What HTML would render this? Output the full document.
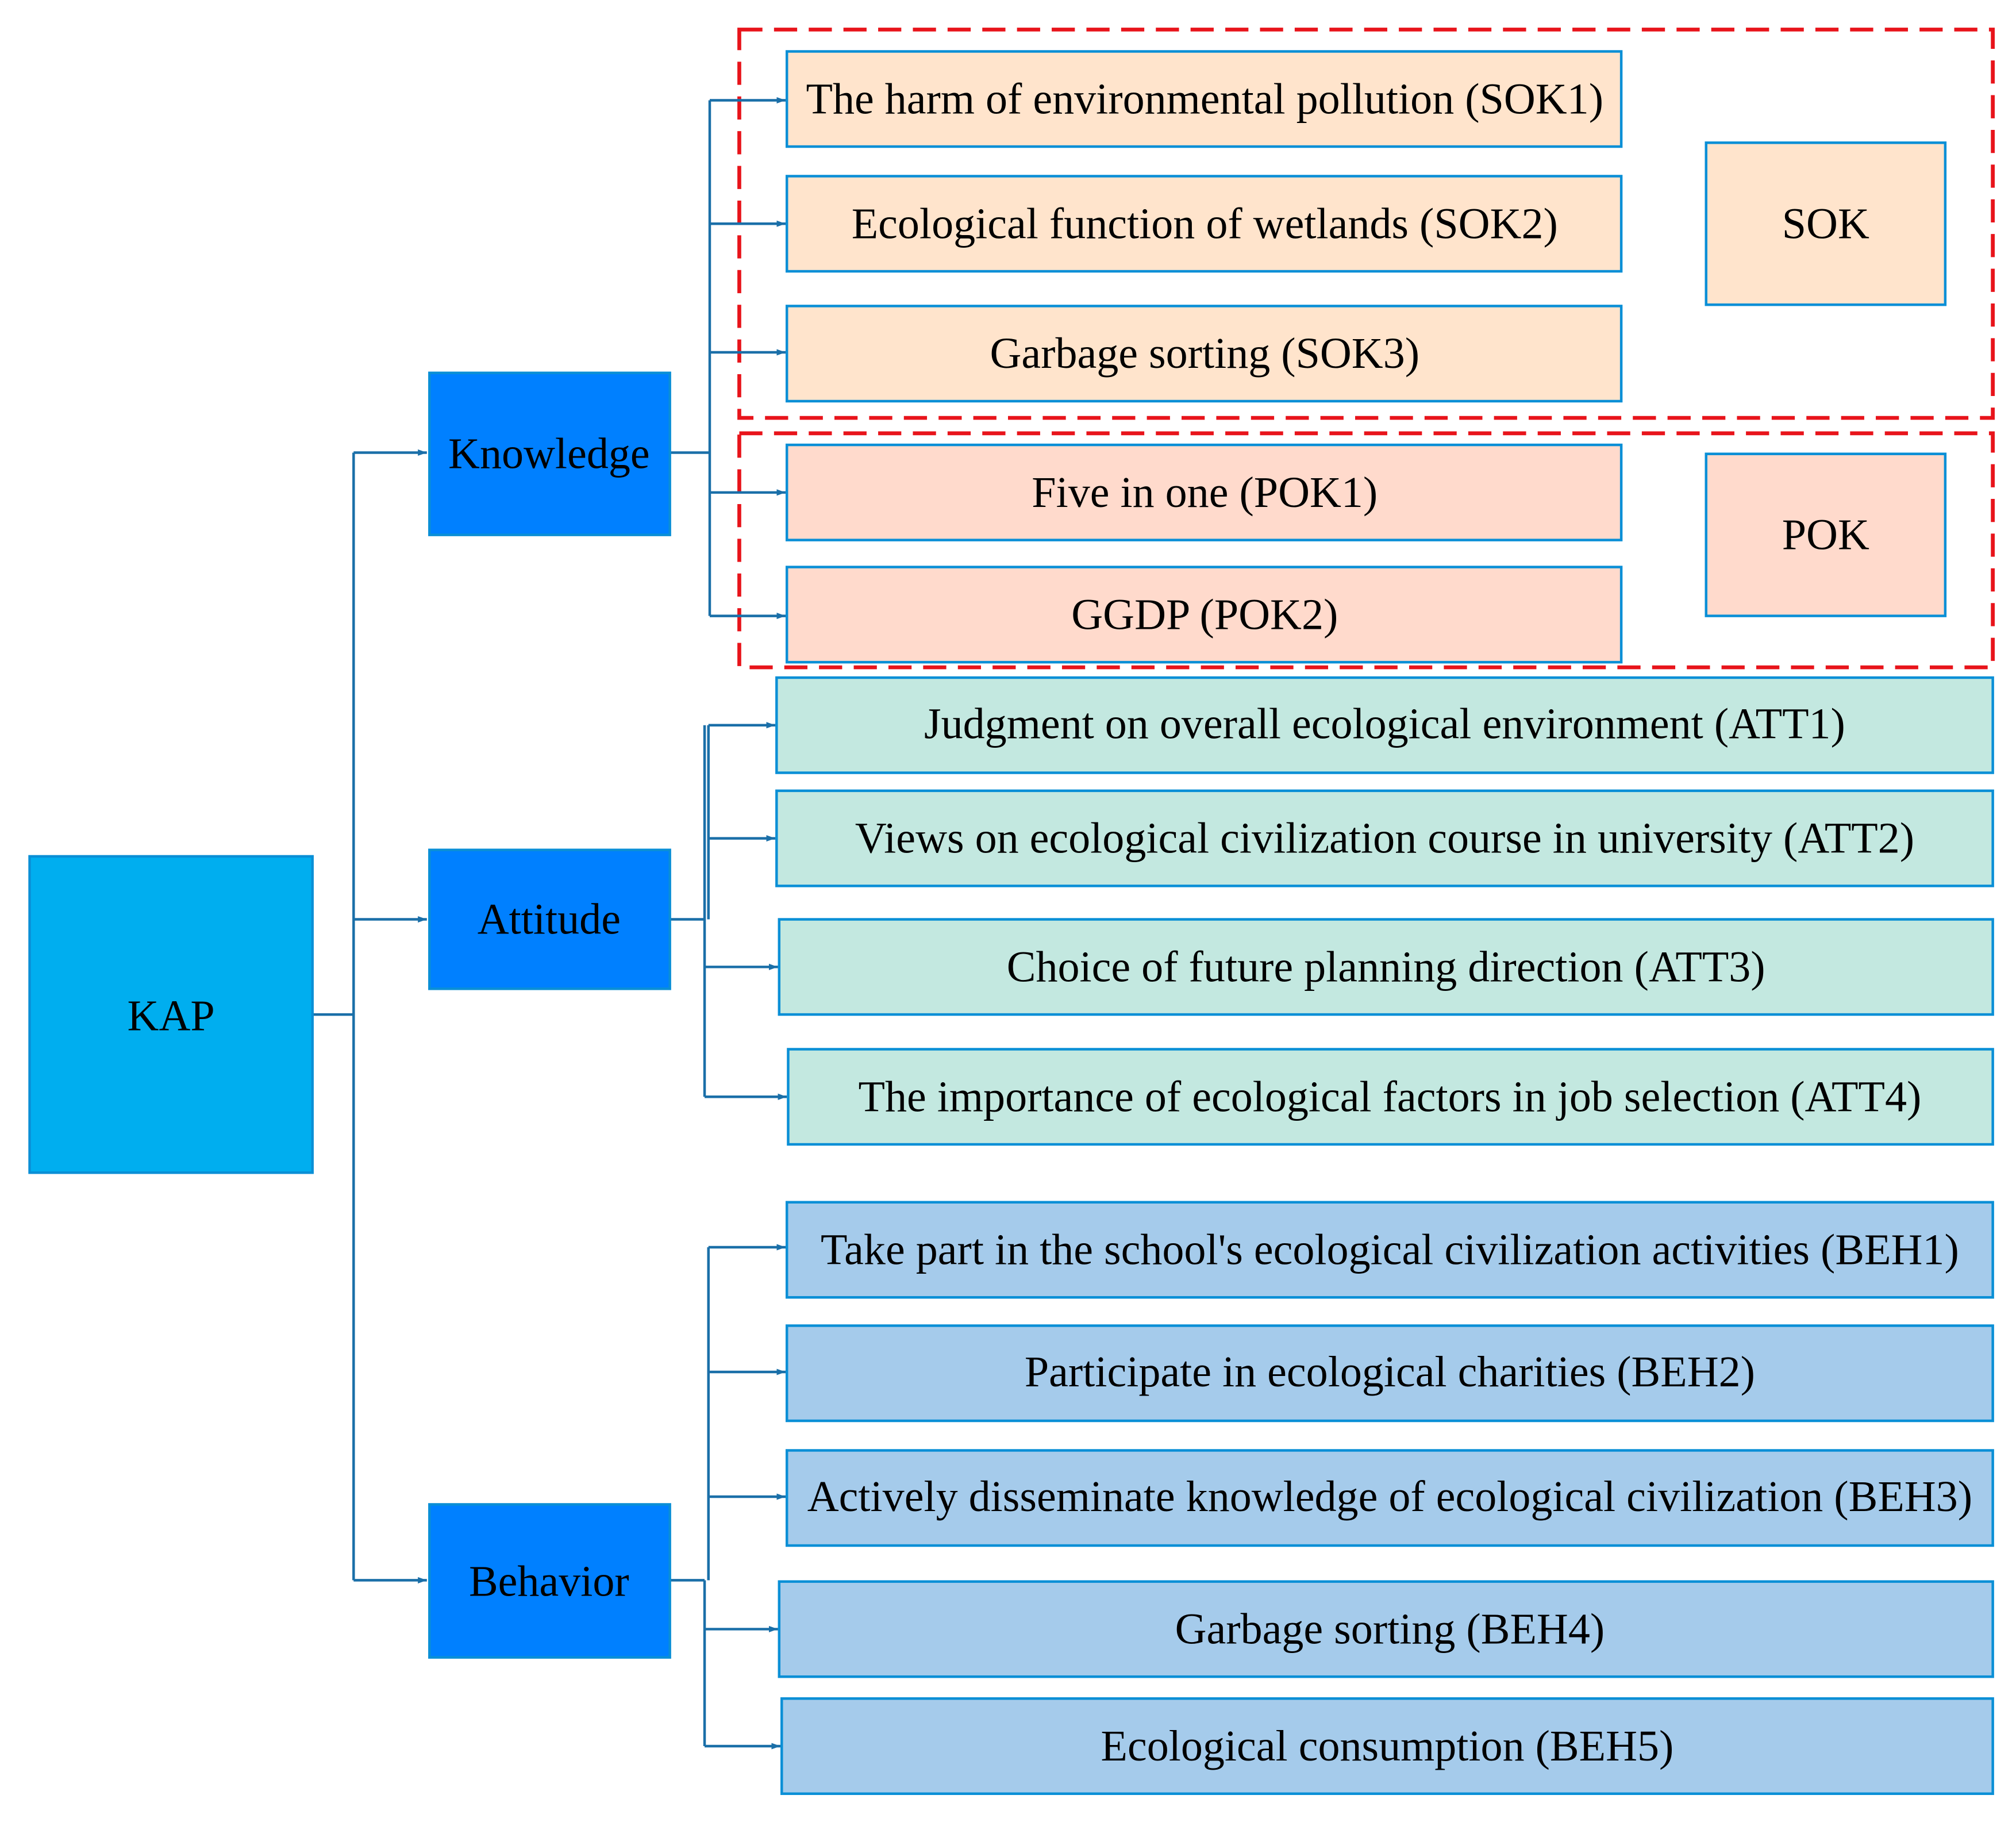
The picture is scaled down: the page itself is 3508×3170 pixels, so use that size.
<!DOCTYPE html>
<html><head><meta charset="utf-8"><style>
html,body{margin:0;padding:0;background:#fff;}
svg{display:block;}
text{font-family:"Liberation Serif",serif;font-size:34px;fill:#000;text-anchor:middle;dominant-baseline:central;}
</style></head><body>
<svg width="3508" height="3170" viewBox="0 0 1568 1417" xmlns="http://www.w3.org/2000/svg">
<defs><marker id="a" markerWidth="8" markerHeight="8" refX="7" refY="4" orient="auto" markerUnits="userSpaceOnUse"><path d="M0,1.5 L7,4 L0,6.5 z" fill="#1a6fa8"/></marker></defs>
<rect width="1568" height="1417" fill="#fff"/>
<rect x="575" y="23" width="975" height="302" fill="none" stroke="#e8141b" stroke-width="3" stroke-dasharray="18,9"/>
<rect x="575" y="337" width="975" height="182" fill="none" stroke="#e8141b" stroke-width="3" stroke-dasharray="18,9"/>
<g stroke="#1a6fa8" stroke-width="2" fill="none">
<path d="M243,789 H275 M275,352 V1229"/>
<path d="M275,352 H332" marker-end="url(#a)"/>
<path d="M275,715 H332" marker-end="url(#a)"/>
<path d="M275,1229 H332" marker-end="url(#a)"/>
<path d="M521,352 H552 M552,78 V479"/>
<path d="M552,78 H611" marker-end="url(#a)"/>
<path d="M552,174 H611" marker-end="url(#a)"/>
<path d="M552,274 H611" marker-end="url(#a)"/>
<path d="M552,383 H611" marker-end="url(#a)"/>
<path d="M552,479 H611" marker-end="url(#a)"/>
<path d="M521,715 H548 M548,564 V853 M551,564 V715"/>
<path d="M551,564 H603" marker-end="url(#a)"/>
<path d="M551,652 H603" marker-end="url(#a)"/>
<path d="M548,752 H605" marker-end="url(#a)"/>
<path d="M548,853 H612" marker-end="url(#a)"/>
<path d="M521,1229 H548 M548,1229 V1358 M551,970 V1229"/>
<path d="M551,970 H611" marker-end="url(#a)"/>
<path d="M551,1067 H611" marker-end="url(#a)"/>
<path d="M551,1164 H611" marker-end="url(#a)"/>
<path d="M548,1267 H605" marker-end="url(#a)"/>
<path d="M548,1358 H607" marker-end="url(#a)"/>
</g>
<g stroke="#0a8fd6" stroke-width="2">
<rect x="23" y="666" width="220" height="246" fill="#00aeef"/>
<rect x="334" y="290" width="187" height="126" fill="#0080ff"/>
<rect x="334" y="661" width="187" height="108" fill="#0080ff"/>
<rect x="334" y="1170" width="187" height="119" fill="#0080ff"/>
<g fill="#ffe4cc">
<rect x="612" y="40" width="649" height="74"/>
<rect x="612" y="137" width="649" height="74"/>
<rect x="612" y="238" width="649" height="74"/>
<rect x="1327" y="111" width="186" height="126"/>
</g>
<g fill="#ffdacc">
<rect x="612" y="346" width="649" height="74"/>
<rect x="612" y="441" width="649" height="74"/>
<rect x="1327" y="353" width="186" height="126"/>
</g>
<g fill="#c3e8e0">
<rect x="604" y="527" width="946" height="74"/>
<rect x="604" y="615" width="946" height="74"/>
<rect x="606" y="715" width="944" height="74"/>
<rect x="613" y="816" width="937" height="74"/>
</g>
<g fill="#a5cbeb">
<rect x="612" y="935" width="938" height="74"/>
<rect x="612" y="1031" width="938" height="74"/>
<rect x="612" y="1128" width="938" height="74"/>
<rect x="606" y="1230" width="944" height="74"/>
<rect x="608" y="1321" width="942" height="74"/>
</g>
</g>
<text x="133" y="790">KAP</text>
<text x="427" y="353">Knowledge</text>
<text x="427" y="715">Attitude</text>
<text x="427" y="1230">Behavior</text>
<text x="937" y="77">The harm of environmental pollution (SOK1)</text>
<text x="937" y="174">Ecological function of wetlands (SOK2)</text>
<text x="937" y="275">Garbage sorting (SOK3)</text>
<text x="1420" y="174">SOK</text>
<text x="937" y="383">Five in one (POK1)</text>
<text x="937" y="478">GGDP (POK2)</text>
<text x="1420" y="416">POK</text>
<text x="1077" y="563">Judgment on overall ecological environment (ATT1)</text>
<text x="1077" y="652">Views on ecological civilization course in university (ATT2)</text>
<text x="1078" y="752">Choice of future planning direction (ATT3)</text>
<text x="1081" y="853">The importance of ecological factors in job selection (ATT4)</text>
<text x="1081" y="972">Take part in the school's ecological civilization activities (BEH1)</text>
<text x="1081" y="1067">Participate in ecological charities (BEH2)</text>
<text x="1081" y="1164">Actively disseminate knowledge of ecological civilization (BEH3)</text>
<text x="1081" y="1267">Garbage sorting (BEH4)</text>
<text x="1079" y="1358">Ecological consumption (BEH5)</text>
</svg>
</body></html>
